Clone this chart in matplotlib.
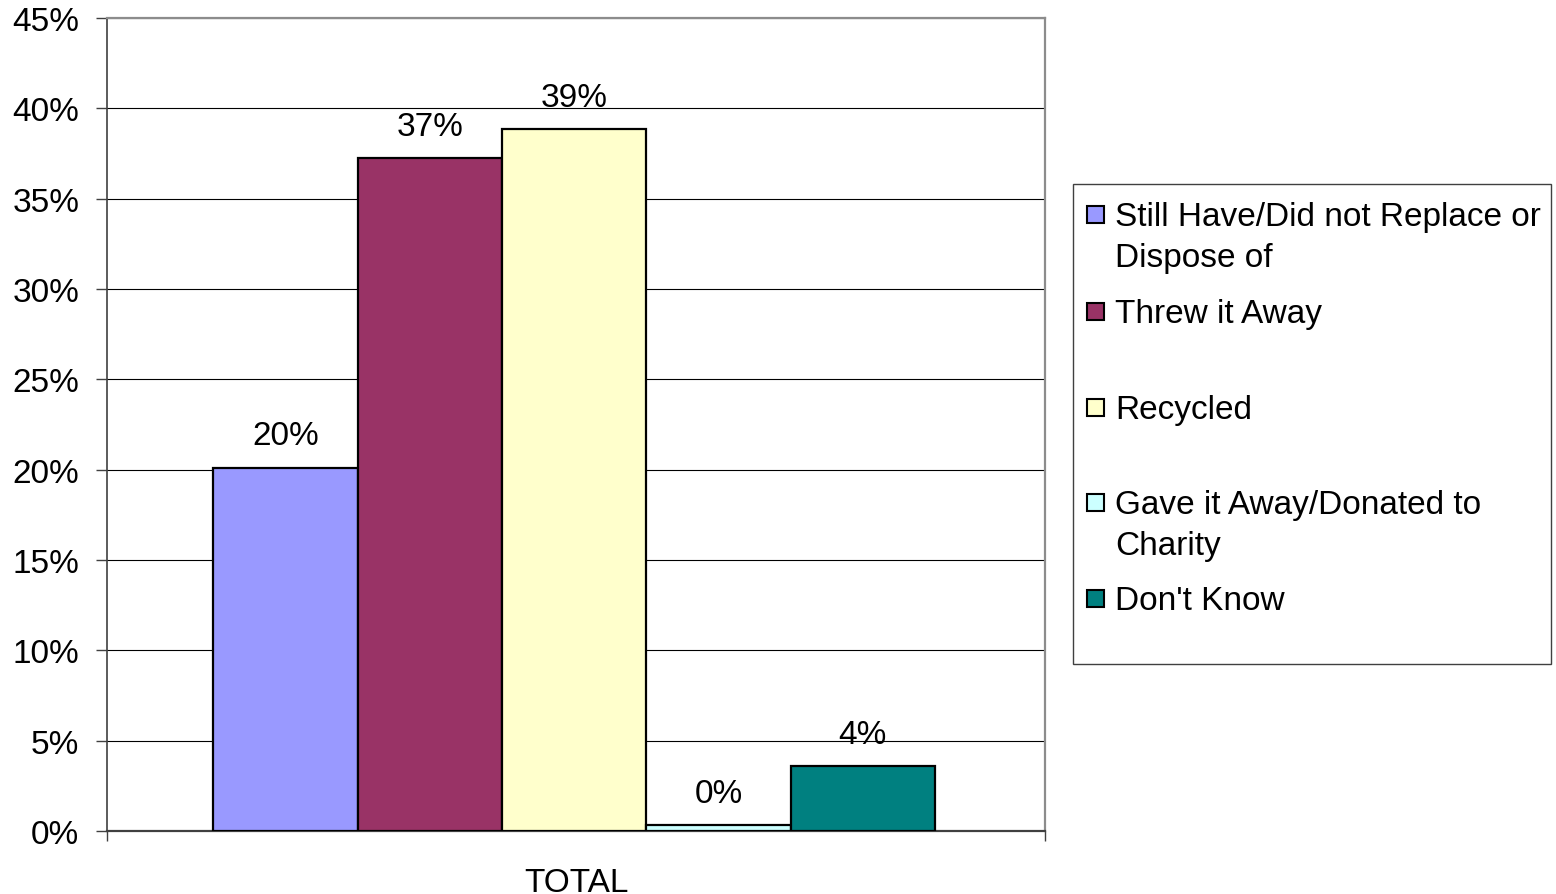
import matplotlib
matplotlib.use("Agg")
import matplotlib.pyplot as plt
from matplotlib.patches import Rectangle

plt.rcParams['font.family'] = ['Liberation Sans', 'DejaVu Sans']

category = "TOTAL"
labels = ["Still Have/Did not Replace or\nDispose of", "Threw it Away", "Recycled",
          "Gave it Away/Donated to\nCharity", "Don't Know"]
values = [20.1, 37.25, 38.85, 0.33, 3.6]
colors = ["#9999FF", "#993366", "#FFFFCC", "#CCFFFF", "#008080"]
yticks = [0, 5, 10, 15, 20, 25, 30, 35, 40, 45]

W, H = 1556, 895
fig = plt.figure(figsize=(W / 100, H / 100), dpi=100)
ax = fig.add_axes([107 / W, 1 - 832 / H, (1045 - 107) / W, (832 - 19) / H])

fs = 24
bw = 0.1539
for i, (v, c) in enumerate(zip(values, colors)):
    x = (i - 2) * bw - 0.002
    ax.bar(x, v, width=bw, color=c, edgecolor="black", linewidth=1.6, zorder=3)
    ax.annotate(f"{v:.0f}%", (x, v), xytext=(0, 23), textcoords="offset points",
                ha="center", va="center", fontsize=fs)

ax.set_xlim(-0.5, 0.5)
ax.set_ylim(0, 45)
ax.set_yticks(yticks)
ax.set_yticklabels([f"{t}%" for t in yticks], fontsize=fs)
ax.tick_params(axis="y", length=8, width=1, color="#404040", pad=12)
ax.set_xticks([0])
ax.set_xticklabels([category], fontsize=fs)
ax.set_xticks([-0.5, 0.5], minor=True)
ax.tick_params(axis="x", which="major", length=0, pad=26)
ax.tick_params(axis="x", which="minor", length=7, width=1, color="#404040")

ax.yaxis.grid(True, color="#000000", linewidth=0.8)
ax.set_axisbelow(True)
for side in ["top", "right"]:
    ax.spines[side].set_color("#8c8c8c")
    ax.spines[side].set_linewidth(1.6)
ax.spines["left"].set_color("#404040")
ax.spines["left"].set_linewidth(1.2)
ax.spines["bottom"].set_color("#404040")
ax.spines["bottom"].set_linewidth(1.6)

# legend box drawn in pixel coordinates of the figure
def px(x, y):
    return x / W, 1 - y / H

lx0, ly0, lx1, ly1 = 1073, 185, 1551, 665
fig.patches.append(Rectangle(px(lx0, ly1), (lx1 - lx0) / W, (ly1 - ly0) / H,
                             transform=fig.transFigure, facecolor="white",
                             edgecolor="#404040", linewidth=1.0))
row_y = [215, 312, 408, 503, 599]
for lab, c, ry in zip(labels, colors, row_y):
    s = 17
    fig.patches.append(Rectangle(px(1087, ry + s / 2), s / W, s / H,
                                 transform=fig.transFigure, facecolor=c,
                                 edgecolor="black", linewidth=1.5))
    fx, fy = px(1115, ry - 13)
    fig.text(fx, fy, lab, fontsize=fs, ha="left", va="top", linespacing=1.42)

fig.savefig("out.png", dpi=100, facecolor="white")
